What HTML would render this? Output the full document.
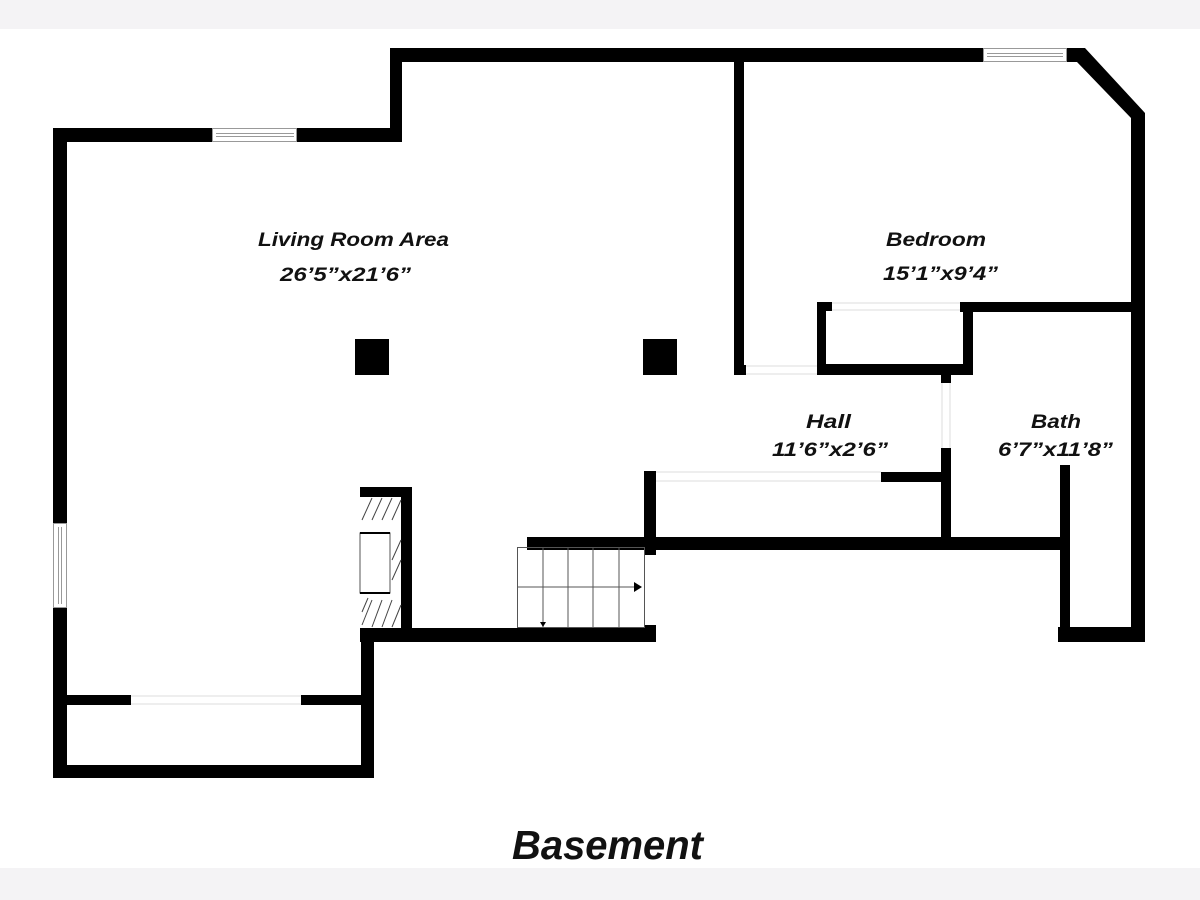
<!DOCTYPE html>
<html><head><meta charset="utf-8"><style>
html,body{margin:0;padding:0;background:#fff;width:1200px;height:900px;overflow:hidden}
svg{display:block}
text{font-family:"Liberation Sans",sans-serif;font-weight:bold;font-style:italic;fill:#111}
</style></head><body>
<svg width="1200" height="900" viewBox="0 0 1200 900" xmlns="http://www.w3.org/2000/svg">
<rect x="0" y="0" width="1200" height="29" fill="#f4f3f5"/>
<rect x="0" y="868" width="1200" height="32" fill="#f4f3f5"/>
<g fill="#000">
<!-- outer left -->
<rect x="53" y="128" width="14" height="395"/>
<rect x="53" y="608" width="14" height="170"/>
<rect x="53" y="128" width="159" height="14"/>
<rect x="297" y="128" width="105" height="14"/>
<rect x="390" y="48" width="12" height="94"/>
<rect x="390" y="48" width="593" height="14"/>
<rect x="1067" y="48" width="12" height="14"/>
<polygon points="1067,48 1085,48 1145,113 1145,135 1131,135 1131,118 1077,62 1067,62"/>
<rect x="1131" y="113" width="14" height="529"/>
<!-- bottom left -->
<rect x="53" y="765" width="321" height="13"/>
<rect x="361" y="628" width="13" height="150"/>
<rect x="66" y="695" width="65" height="10"/>
<rect x="301" y="695" width="62" height="10"/>
<rect x="360" y="628" width="296" height="14"/>
<!-- fireplace -->
<rect x="360" y="487" width="52" height="10"/>
<rect x="401" y="487" width="11" height="150"/>
<!-- columns -->
<rect x="355" y="339" width="34" height="36"/>
<rect x="643" y="339" width="34" height="36"/>
<!-- bedroom wall -->
<rect x="734" y="62" width="10" height="313"/>
<rect x="734" y="365" width="12" height="10"/>
<!-- closet -->
<rect x="817" y="302" width="15" height="9"/>
<rect x="817" y="302" width="9" height="73"/>
<rect x="817" y="364" width="156" height="11"/>
<rect x="963" y="302" width="10" height="73"/>
<rect x="960" y="302" width="175" height="10"/>
<rect x="941" y="375" width="10" height="8"/>
<!-- hall -->
<rect x="941" y="448" width="10" height="102"/>
<rect x="881" y="472" width="62" height="10"/>
<rect x="644" y="471" width="12" height="84"/>
<rect x="644" y="625" width="12" height="17"/>
<rect x="527" y="537" width="543" height="13"/>
<!-- bath -->
<rect x="1060" y="465" width="10" height="177"/>
<rect x="1058" y="627" width="87" height="15"/>
</g>
<!-- windows -->
<g fill="#fff" stroke="#999" stroke-width="1">
<rect x="212.5" y="128.5" width="84" height="13"/>
<line x1="216" y1="133.5" x2="294" y2="133.5"/><line x1="216" y1="136.5" x2="294" y2="136.5"/>
<rect x="983.5" y="48.5" width="83" height="13"/>
<line x1="987" y1="53.5" x2="1063" y2="53.5"/><line x1="987" y1="56.5" x2="1063" y2="56.5"/>
<rect x="53.5" y="523.5" width="13" height="84"/>
<line x1="58.5" y1="527" x2="58.5" y2="604"/><line x1="61.5" y1="527" x2="61.5" y2="604"/>
</g>
<!-- door lines -->
<g stroke="#ddd" stroke-width="1">
<line x1="746" y1="366" x2="817" y2="366"/><line x1="746" y1="374" x2="817" y2="374"/>
<line x1="832" y1="303" x2="960" y2="303"/><line x1="832" y1="310" x2="960" y2="310"/>
<line x1="656" y1="472" x2="881" y2="472"/><line x1="656" y1="481" x2="881" y2="481"/>
<line x1="131" y1="696" x2="301" y2="696"/><line x1="131" y1="704" x2="301" y2="704"/>
<line x1="942" y1="383" x2="942" y2="448"/><line x1="950" y1="383" x2="950" y2="448"/>
</g>
<!-- fireplace hatch -->
<g stroke="#444" stroke-width="1">
<line x1="362" y1="520" x2="372" y2="498"/><line x1="372" y1="520" x2="382" y2="498"/><line x1="382" y1="520" x2="392" y2="498"/><line x1="392" y1="520" x2="401" y2="500"/>
<line x1="392" y1="560" x2="401" y2="540"/><line x1="392" y1="580" x2="401" y2="560"/>
<line x1="362" y1="625" x2="372" y2="600"/><line x1="372" y1="627" x2="382" y2="600"/><line x1="382" y1="627" x2="392" y2="600"/><line x1="392" y1="627" x2="401" y2="605"/>
<line x1="362" y1="612" x2="368" y2="598"/>
<rect x="360" y="533" width="30" height="60" fill="#fff" stroke="#555"/>
<line x1="360" y1="533" x2="390" y2="533" stroke="#000" stroke-width="2"/>
<line x1="360" y1="593" x2="390" y2="593" stroke="#000" stroke-width="2"/>
</g>
<!-- stairs -->
<g stroke="#555" stroke-width="1" fill="none">
<rect x="517.5" y="547.5" width="127" height="80"/>
<line x1="543" y1="548" x2="543" y2="628"/><line x1="568" y1="548" x2="568" y2="628"/>
<line x1="593" y1="548" x2="593" y2="628"/><line x1="619" y1="548" x2="619" y2="628"/>
<line x1="517" y1="587" x2="638" y2="587"/>
</g>
<polygon points="634,582 642,587 634,592" fill="#000"/>
<polygon points="540,622 546,622 543,627" fill="#000"/>
<!-- labels -->
<text x="258" y="246" font-size="19" textLength="191" lengthAdjust="spacingAndGlyphs">Living Room Area</text>
<text x="280" y="281" font-size="19" textLength="131" lengthAdjust="spacingAndGlyphs">26’5”x21’6”</text>
<text x="886" y="246" font-size="19" textLength="100" lengthAdjust="spacingAndGlyphs">Bedroom</text>
<text x="883" y="280" font-size="19" textLength="115" lengthAdjust="spacingAndGlyphs">15’1”x9’4”</text>
<text x="806" y="428" font-size="19" textLength="45" lengthAdjust="spacingAndGlyphs">Hall</text>
<text x="772" y="456" font-size="19" textLength="116" lengthAdjust="spacingAndGlyphs">11’6”x2’6”</text>
<text x="1031" y="428" font-size="19" textLength="50" lengthAdjust="spacingAndGlyphs">Bath</text>
<text x="998" y="456" font-size="19" textLength="115" lengthAdjust="spacingAndGlyphs">6’7”x11’8”</text>
<text x="512" y="859" font-size="41" textLength="191" lengthAdjust="spacingAndGlyphs">Basement</text>
</svg>
</body></html>
